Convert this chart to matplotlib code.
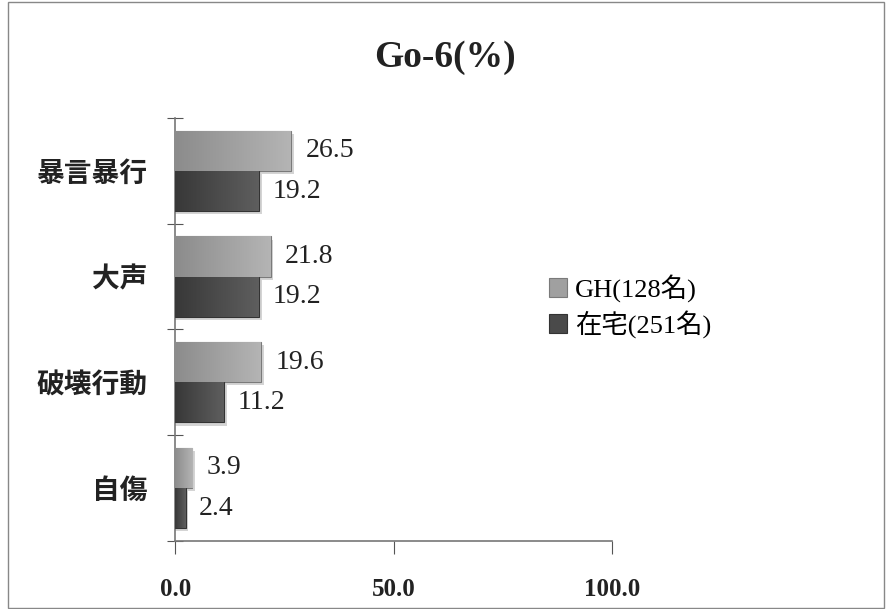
import matplotlib.pyplot as plt
import numpy as np
from matplotlib.patches import Rectangle
from matplotlib.colors import LinearSegmentedColormap

categories = ['暴言暴行', '大声', '破壊行動', '自傷']
gh = [26.5, 21.8, 19.6, 3.9]
zaitaku = [19.2, 19.2, 11.2, 2.4]
series_names = ['GH(128名)', '在宅(251名)']
xticks = [0, 50, 100]

serif = ['Liberation Serif', 'Noto Sans CJK JP']
cjk = ['Noto Sans CJK JP', 'DejaVu Sans']

fig = plt.figure(figsize=(8.9, 6.09), dpi=100)
ax = fig.add_axes([0.197, 0.112, 0.491, 0.694])

n = len(categories)
y = np.arange(n)[::-1]  # top category first
h = 0.38
b1 = ax.barh(y + h / 2, gh, height=h, color='#a0a0a0', edgecolor='#7a7a7a', linewidth=0.8, label=series_names[0], zorder=3)
b2 = ax.barh(y - h / 2, zaitaku, height=h, color='#4a4a4a', edgecolor='#333333', linewidth=0.8, label=series_names[1], zorder=3)

# gradient fill + soft shadow
grads = [LinearSegmentedColormap.from_list('g1', ['#8c8c8c', '#b4b4b4']),
         LinearSegmentedColormap.from_list('g2', ['#383838', '#5e5e5e'])]
grad = np.linspace(0, 1, 64).reshape(1, -1)
for bars, cm in zip((b1, b2), grads):
    for r in bars:
        x0, y0, w, hh = r.get_x(), r.get_y(), r.get_width(), r.get_height()
        ax.add_patch(Rectangle((x0, y0 - 0.03), w + 0.6, hh, color='#d4d4d4', zorder=2, lw=0))
        im = ax.imshow(grad, cmap=cm, aspect='auto', extent=(x0, x0 + w, y0, y0 + hh), zorder=3.5)
        im.set_clip_path(r)

for yy, v in zip(y + h / 2, gh):
    ax.text(v + 3.3, yy, f'{v:.1f}', va='center', ha='left', fontsize=20, family=serif, color='#222')
for yy, v in zip(y - h / 2, zaitaku):
    ax.text(v + 3.0, yy, f'{v:.1f}', va='center', ha='left', fontsize=20, family=serif, color='#222')

ax.set_xlim(0, 100)
ax.set_ylim(-0.5, n - 0.5)

ax.set_xticks(xticks)
ax.set_xticklabels([f'{t:.1f}' for t in xticks], fontsize=18, family=serif, fontweight='bold', color='#222')
ax.tick_params(axis='x', direction='out', length=9, pad=18, color='#555')

ax.set_yticks(np.arange(-0.5, n, 1.0))
ax.set_yticklabels([])
ax.tick_params(axis='y', which='major', direction='inout', length=12, color='#555')
ax.set_yticks(y, minor=True)
ax.set_yticklabels(categories, minor=True, fontsize=20, family=cjk, fontweight='bold', color='#222')
ax.tick_params(axis='y', which='minor', length=0, pad=20)

for s in ('top', 'right'):
    ax.spines[s].set_visible(False)
for s in ('left', 'bottom'):
    ax.spines[s].set_color('#777')
    ax.spines[s].set_linewidth(1.2)

fig.text(0.50, 0.905, 'Go-6(%)', ha='center', va='center', fontsize=27, fontweight='bold', family=serif, color='#222')

leg = ax.legend(loc='center left', bbox_to_anchor=(0.80, 0.555), frameon=False,
                prop={'family': serif, 'size': 19}, handlelength=0.7, handleheight=0.7,
                handletextpad=0.3, labelspacing=0.3)

fig.patches.append(Rectangle((0.009, 0.002), 0.984, 0.994, transform=fig.transFigure,
                             fill=False, edgecolor='#888', linewidth=1.0))

fig.savefig('out.png', dpi=100)
